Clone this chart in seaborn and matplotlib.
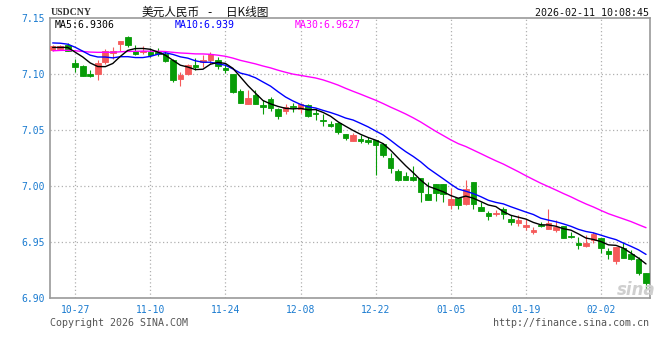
import numpy as np
import pandas as pd
import matplotlib
matplotlib.use("Agg")
import matplotlib.pyplot as plt
import seaborn as sns

# ---------------- data ----------------
first_day = "2025-10-22"
opens = [7.1218, 7.1227, 7.1265, 7.1100, 7.1073, 7.1000, 7.1000, 7.1109, 7.1188, 7.1271,
         7.1329, 7.1206, 7.1197, 7.1199, 7.1197, 7.1181, 7.1130, 7.0956, 7.1006, 7.1086,
         7.1106, 7.1130, 7.1132, 7.1059, 7.1006, 7.0853, 7.0735, 7.0815, 7.0726, 7.0779,
         7.0691, 7.0673, 7.0720, 7.0691, 7.0726, 7.0658, 7.0594, 7.0559, 7.0565, 7.0470,
         7.0402, 7.0424, 7.0417, 7.0411, 7.0382, 7.0256, 7.0138, 7.0088, 7.0079, 7.0073,
         6.9932, 7.0020, 7.0020, 6.9835, 6.9894, 6.9844, 7.0035, 6.9817, 6.9764, 6.9753,
         6.9800, 6.9705, 6.9673, 6.9635, 6.9594, 6.9658, 6.9623, 6.9608, 6.9647, 6.9559,
         6.9491, 6.9467, 6.9520, 6.9541, 6.9420, 6.9335, 6.9453, 6.9394, 6.9352, 6.9226]
highs = [7.1265, 7.1265, 7.1276, 7.1139, 7.1079, 7.1041, 7.1124, 7.1227, 7.1241, 7.1300,
         7.1344, 7.1265, 7.1256, 7.1238, 7.1236, 7.1206, 7.1139, 7.1020, 7.1094, 7.1146,
         7.1168, 7.1203, 7.1153, 7.1094, 7.1006, 7.0865, 7.0859, 7.0859, 7.0771, 7.0800,
         7.0697, 7.0735, 7.0741, 7.0747, 7.0735, 7.0697, 7.0647, 7.0585, 7.0570, 7.0470,
         7.0477, 7.0462, 7.0441, 7.0417, 7.0388, 7.0300, 7.0153, 7.0129, 7.0182, 7.0073,
         7.0041, 7.0020, 7.0020, 6.9982, 6.9894, 7.0056, 7.0035, 6.9859, 6.9776, 6.9785,
         6.9815, 6.9741, 6.9741, 6.9705, 6.9638, 6.9682, 6.9793, 6.9696, 6.9647, 6.9594,
         6.9550, 6.9564, 6.9594, 6.9541, 6.9447, 6.9455, 6.9504, 6.9432, 6.9373, 6.9226]
lows = [7.1212, 7.1221, 7.1206, 7.1020, 7.0982, 7.0976, 7.0953, 7.1094, 7.1139, 7.1212,
        7.1241, 7.1168, 7.1177, 7.1153, 7.1162, 7.1106, 7.0932, 7.0894, 7.0991, 7.1040,
        7.1064, 7.1094, 7.1050, 7.1011, 7.0835, 7.0741, 7.0735, 7.0735, 7.0647, 7.0676,
        7.0603, 7.0647, 7.0667, 7.0658, 7.0623, 7.0594, 7.0541, 7.0530, 7.0464, 7.0411,
        7.0402, 7.0388, 7.0382, 7.0100, 7.0265, 7.0117, 7.0049, 7.0058, 7.0049, 6.9864,
        6.9882, 6.9873, 6.9859, 6.9800, 6.9800, 6.9829, 6.9800, 6.9776, 6.9696, 6.9735,
        6.9711, 6.9652, 6.9647, 6.9608, 6.9573, 6.9638, 6.9617, 6.9594, 6.9535, 6.9541,
        6.9440, 6.9462, 6.9491, 6.9402, 6.9352, 6.9305, 6.9358, 6.9343, 6.9211, 6.9079]
closes = [7.1256, 7.1256, 7.1212, 7.1064, 7.0985, 7.0989, 7.1097, 7.1206, 7.1206, 7.1300,
          7.1259, 7.1177, 7.1212, 7.1168, 7.1177, 7.1117, 7.0953, 7.0991, 7.1086, 7.1064,
          7.1132, 7.1177, 7.1071, 7.1041, 7.0844, 7.0747, 7.0791, 7.0735, 7.0711, 7.0697,
          7.0632, 7.0706, 7.0711, 7.0735, 7.0629, 7.0644, 7.0579, 7.0541, 7.0485, 7.0432,
          7.0455, 7.0406, 7.0400, 7.0367, 7.0276, 7.0159, 7.0058, 7.0058, 7.0056, 6.9947,
          6.9882, 6.9938, 6.9932, 6.9888, 6.9829, 6.9976, 6.9844, 6.9782, 6.9735, 6.9758,
          6.9749, 6.9682, 6.9696, 6.9652, 6.9608, 6.9643, 6.9676, 6.9638, 6.9541, 6.9544,
          6.9476, 6.9491, 6.9573, 6.9447, 6.9398, 6.9455, 6.9363, 6.9352, 6.9226, 6.9138]
# closes before the visible window (only feed the moving averages)
prior_closes = [7.1160, 7.1180, 7.1195, 7.1170, 7.1150, 7.1165, 7.1190, 7.1200, 7.1175, 7.1160,
                7.1145, 7.1170, 7.1185, 7.1200, 7.1180, 7.1165, 7.1170, 7.1190, 7.1200, 7.1150,
                7.1280, 7.1300, 7.1340, 7.1330, 7.1350, 7.1256, 7.1212, 7.1279, 7.1197]
x_tick_labels = ["10-27", "11-10", "11-24", "12-08", "12-22", "01-05", "01-19", "02-02"]
y_ticks = [6.90, 6.95, 7.00, 7.05, 7.10, 7.15]
ma_labels = ["MA5:6.9306", "MA10:6.939", "MA30:6.9627"]
title_parts = ["美元人民币", "-", "日K线图"]
symbol_text = "USDCNY"
time_text = "2026-02-11 10:08:45"

# ---------------- derived ----------------
n = len(closes)
dates = pd.bdate_range(first_day, periods=n).strftime("%m-%d").tolist()
all_closes = pd.Series(prior_closes + closes)
df = pd.DataFrame({
    "idx": np.arange(n),
    "open": opens, "high": highs, "low": lows, "close": closes,
    "ma5": all_closes.rolling(5).mean().iloc[len(prior_closes):].to_numpy(),
    "ma10": all_closes.rolling(10).mean().iloc[len(prior_closes):].to_numpy(),
    "ma30": all_closes.rolling(30).mean().iloc[len(prior_closes):].to_numpy(),
})

# ---------------- style ----------------
sns.set_style("white")
plt.rcParams["font.family"] = ["DejaVu Sans Mono", "Noto Sans CJK SC"]

W, H = 660, 360
fig = plt.figure(figsize=(W / 100, H / 100), dpi=100)
L, R, T, B = 50, 650, 18.3, 298.3
ax = fig.add_axes([L / W, 1 - B / H, (R - L) / W, (B - T) / H])

RED = "#f55a5a"
GREEN = "#079c07"
up = df["close"] >= df["open"]
colors = np.where(up, RED, GREEN)

# wicks
ax.vlines(df["idx"], df["low"], df["high"], colors=colors, linewidth=0.8, zorder=3)
# bodies
body_bottom = np.minimum(df["open"], df["close"])
body_h = np.abs(df["close"] - df["open"])
ax.bar(df["idx"], body_h, bottom=body_bottom, width=0.74, color=colors,
       edgecolor=colors, linewidth=0.6, zorder=4)

# moving averages
sns.lineplot(data=df, x="idx", y="ma30", color="#ff00ff", linewidth=1.0, ax=ax, zorder=5, legend=False)
sns.lineplot(data=df, x="idx", y="ma10", color="#0000ff", linewidth=1.0, ax=ax, zorder=6, legend=False)
sns.lineplot(data=df, x="idx", y="ma5", color="#000000", linewidth=1.0, ax=ax, zorder=7, legend=False)

ax.set_xlim(-0.36, n - 1 + 0.53)
ax.set_ylim(6.90, 7.15)
ax.set_xlabel("")
ax.set_ylabel("")

tick_pos = [dates.index(t) for t in x_tick_labels]
ax.set_xticks(tick_pos)
ax.set_xticklabels(x_tick_labels)
ax.set_yticks(y_ticks)
ax.set_yticklabels([f"{v:.2f}" for v in y_ticks])

TICK_BLUE = "#1a7bd0"
ax.tick_params(axis="both", length=0, labelsize=7, colors=TICK_BLUE)
ax.tick_params(axis="x", pad=5)
ax.tick_params(axis="y", pad=4)

for v in y_ticks[1:-1]:
    ax.axhline(v, color="#b0b0b0", linewidth=0.9, linestyle=(0, (1, 2)), zorder=1)
for p in tick_pos:
    ax.axvline(p, color="#b0b0b0", linewidth=0.9, linestyle=(0, (1, 2)), zorder=1)

for s in ax.spines.values():
    s.set_color("#9a9a9a")
    s.set_linewidth(1.2)

def px(x, y):
    return x / W, 1 - y / H

# header texts
fig.text(*px(50.5, 12.5), symbol_text, family="Liberation Serif", fontsize=7, weight="bold",
         color="#333333", ha="left", va="center")
cjk = ["Noto Sans CJK SC", "DejaVu Sans"]
fig.text(*px(141.5, 12.5), title_parts[0], family=cjk, fontsize=8.4,
         color="#111111", ha="left", va="center")
fig.text(*px(209.5, 12.5), title_parts[1], family="DejaVu Sans", fontsize=8.4,
         color="#111111", ha="center", va="center")
fig.text(*px(226.5, 12.5), title_parts[2], family=cjk, fontsize=8.4,
         color="#111111", ha="left", va="center")
fig.text(*px(649, 12.5), time_text, fontsize=7.2, color="#111111", ha="right", va="center")

fig.text(*px(55, 24.5), ma_labels[0], fontsize=7.1, color="#000000", ha="left", va="center")
fig.text(*px(175, 24.5), ma_labels[1], fontsize=7.1, color="#0000ff", ha="left", va="center")
fig.text(*px(295, 24.5), ma_labels[2], fontsize=7.1, color="#ff00ff", ha="left", va="center")

# footer texts
fig.text(*px(49.5, 323.5), "Copyright 2026 SINA.COM", fontsize=7.2, color="#555555",
         ha="left", va="center")
fig.text(*px(649, 323.5), "http://finance.sina.com.cn", fontsize=7.2, color="#555555",
         ha="right", va="center")

# watermark
fig.text(*px(636, 290), "sina", family="DejaVu Sans", fontsize=12, style="italic", weight="bold",
         color="#cfcfcf", ha="center", va="center", zorder=0)

fig.savefig("out.png", dpi=100)
